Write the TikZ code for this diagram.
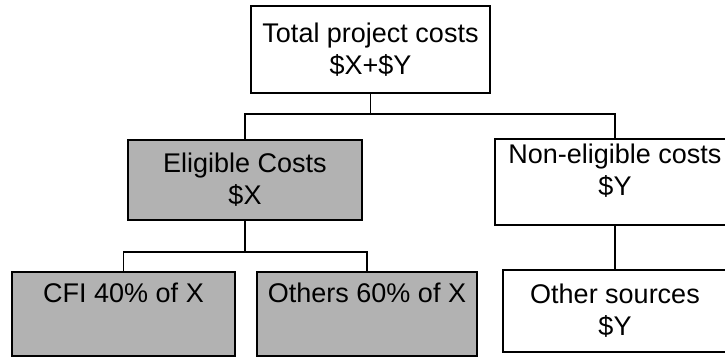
\documentclass[tikz,border=0pt]{standalone}
\usepackage{fontspec}
\setmainfont{Liberation Sans}
\usepackage{tikz}
\usetikzlibrary{shapes,calc}
\tikzstyle{line} = [draw, line width=1.5pt]
\tikzstyle{costbox} = [rectangle, draw, line width=1.6pt, fill=white, align=center, inner sep=0pt, font=\fontsize{27}{32}\selectfont]
\tikzstyle{eligbox} = [costbox, fill=black!30]

\begin{document}
\begin{tikzpicture}[x=1pt, y=1pt]
		\useasboundingbox (0,0) rectangle (725,-356);
		\clip (0,0) rectangle (725,-356);
		
		\node[costbox, minimum width=239pt, minimum height=87pt] (total) at (370.5,-49.5) {Total project costs\\\$X+\$Y};
		
		\node[eligbox, minimum width=234pt, minimum height=80pt, below of=total, node distance=130.5pt, xshift=-125.5pt] (elig) {Eligible Costs\\\$X};
		\node[costbox, minimum width=240pt, minimum height=86pt, text depth=24pt, below of=total, node distance=132.5pt, xshift=244.5pt] (nonelig) {Non-eligible costs\\\$Y};
		
		\coordinate (bus1) at ($(total.south)+(0,-20)$);
		\path [line] (total.south) to (bus1);
		\path [line] (elig.north) |- (bus1) -| (nonelig.north);
		
		\node[eligbox, minimum width=223pt, minimum height=84pt, below of=elig, node distance=134pt, xshift=-121.5pt] (cfi) {CFI 40\% of X\\\strut};
		\node[eligbox, minimum width=220pt, minimum height=84pt, right of=cfi, node distance=243.5pt] (others) {Others 60\% of X\\\strut};
		
		\coordinate (bus2) at ($(elig.south)+(0,-31)$);
		\path [line] (elig.south) to (bus2);
		\path [line] (cfi.north) |- (bus2) -| (others.north);
		
		\node[costbox, minimum width=224pt, minimum height=82pt, below of=nonelig, node distance=129pt] (other) {Other sources\\\$Y};
		\path [line] (nonelig.south) to (other.north);
	\end{tikzpicture}
\end{document}
